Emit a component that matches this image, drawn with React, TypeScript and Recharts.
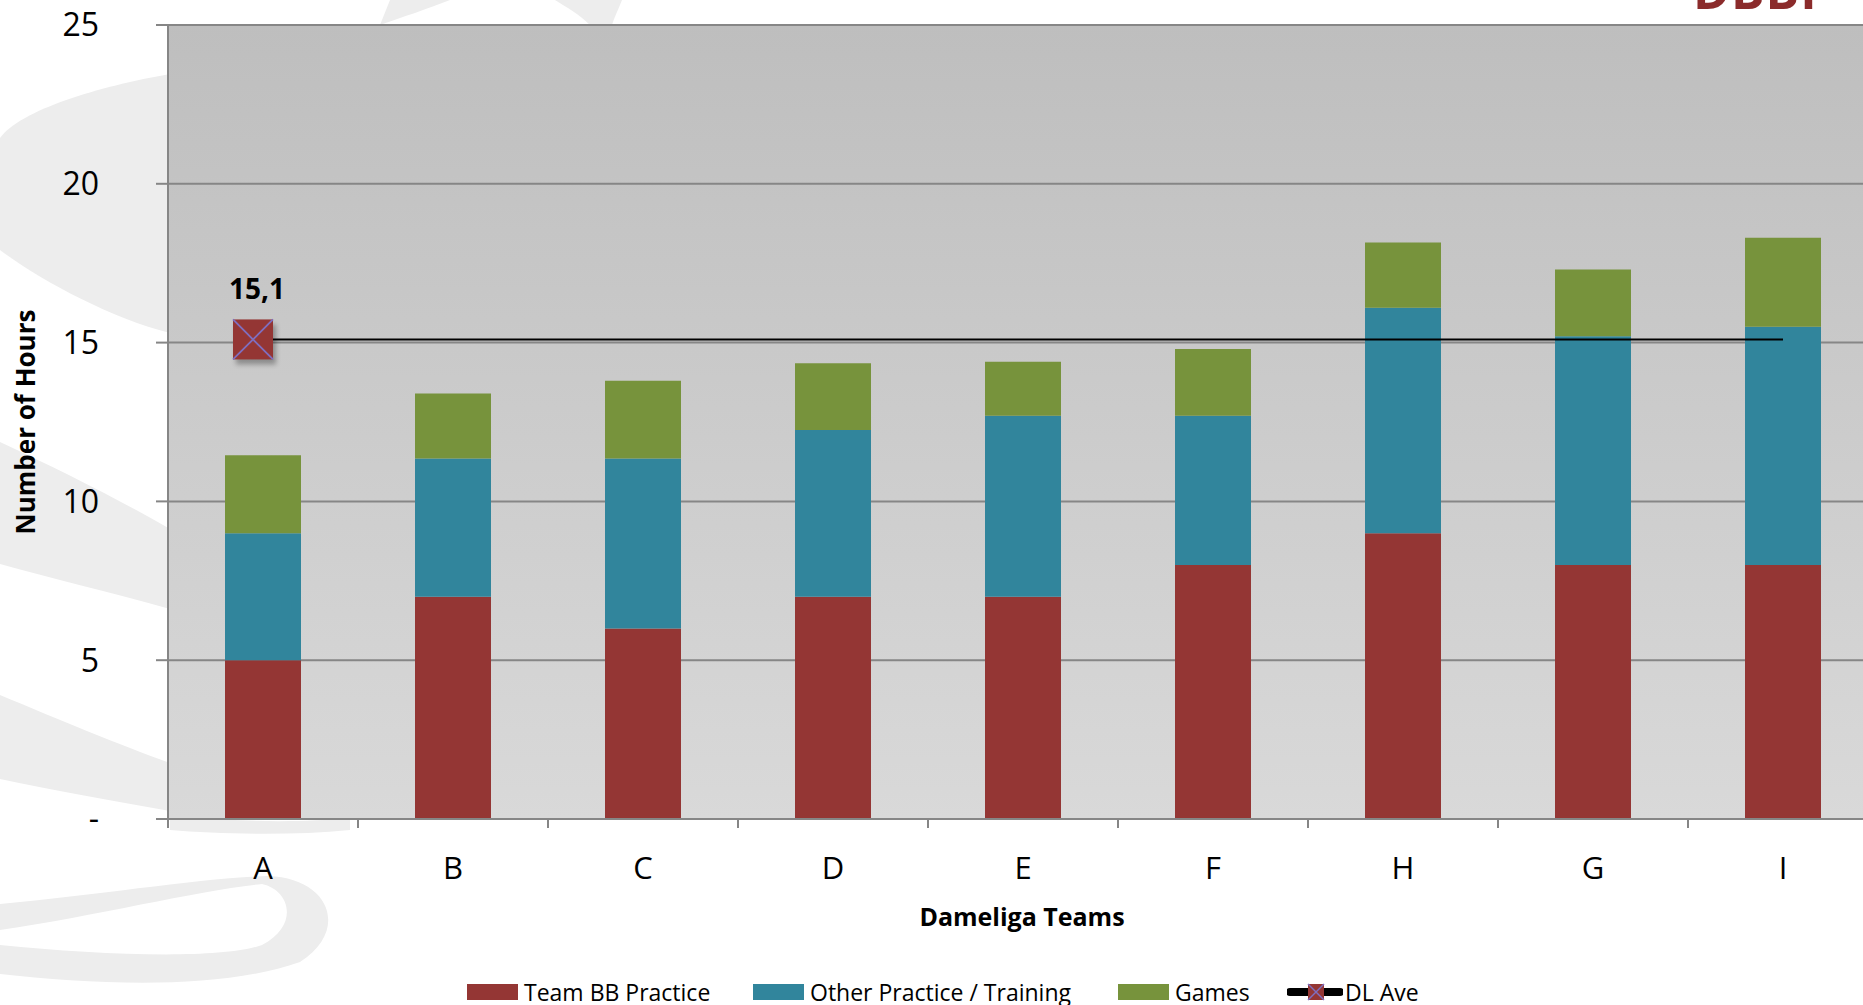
import React from "react";
import { ComposedChart, Bar, Line, XAxis, YAxis, CartesianGrid } from "recharts";

const teams = ["A", "B", "C", "D", "E", "F", "H", "G", "I"];
const teamPractice = [5, 7, 6, 7, 7, 8, 9, 8, 8];
const otherPractice = [4, 4.35, 5.35, 5.25, 5.7, 4.7, 7.1, 7.2, 7.5];
const games = [2.45, 2.05, 2.45, 2.1, 1.7, 2.1, 2.05, 2.1, 2.8];
const dlAve = [15.1, 15.1, 15.1, 15.1, 15.1, 15.1, 15.1, 15.1, 15.1];
const yTicks = [0, 5, 10, 15, 20, 25];

const data = teams.map((team, i) => ({
  team,
  teamPractice: teamPractice[i],
  otherPractice: otherPractice[i],
  games: games[i],
  dlAve: dlAve[i],
}));

const RED = "#943634";
const TEAL = "#31859c";
const GREEN = "#77933c";
const GRID = "#868686";
const FONT = "'Open Sans', sans-serif";

const CHART_W = 1900;
const CHART_H = 1005;
const M = { top: 25, right: 22, left: 0, bottom: 86 };
const Y_W = 168;
const X_H = 100;
const BAND = (CHART_W - M.left - M.right - Y_W) / teams.length;

function XTick(props: any) {
  const { x, y, payload, index } = props;
  return (
    <g>
      <line x1={x - BAND / 2} y1={y} x2={x - BAND / 2} y2={y + 9} stroke={GRID} strokeWidth={2} />
      {index === teams.length - 1 && (
        <line x1={x + BAND / 2} y1={y} x2={x + BAND / 2} y2={y + 9} stroke={GRID} strokeWidth={2} />
      )}
      <text x={x} y={y + 60} textAnchor="middle" fontSize={31} fill="#000" fontFamily={FONT}>
        {payload.value}
      </text>
    </g>
  );
}

function AveDot(props: any) {
  const { cx, cy, index, value } = props;
  if (index !== 0) return <g key={`d${index}`} />;
  const s = 20;
  const mx = cx - 10;
  const v = Array.isArray(value) ? value[1] : value;
  return (
    <g key="d0">
      <rect x={mx - s + 3} y={cy - s + 5} width={2 * s} height={2 * s} fill="#000" opacity={0.3} filter="url(#blur)" />
      <rect x={mx - s} y={cy - s} width={2 * s} height={2 * s} fill={RED} />
      <line x1={mx - s} y1={cy - s} x2={mx + s} y2={cy + s} stroke="#7f6fc0" strokeWidth={1.8} />
      <line x1={mx - s} y1={cy + s} x2={mx + s} y2={cy - s} stroke="#7f6fc0" strokeWidth={1.8} />
      <text x={cx - 6} y={cy - 40} textAnchor="middle" fontSize={28} fontWeight={700} fill="#000" fontFamily={FONT}>
        {String(v).replace(".", ",")}
      </text>
    </g>
  );
}

function Watermark() {
  const c = "#ededed";
  return (
    <svg width={1863} height={1005} style={{ position: "absolute", left: 0, top: 0 }}>
      <path d="M 170 74 C 100 86, 20 110, 0 138 L 0 250 C 40 280, 110 318, 170 333 Z" fill={c} />
      <path d="M 0 442 C 60 470, 120 500, 170 529 L 170 609 C 110 592, 50 578, 0 564 Z" fill={c} />
      <path d="M 0 695 C 60 720, 120 745, 170 763 L 170 811 C 110 800, 50 790, 0 779 Z" fill={c} />
      <path d="M 170 815 C 230 822, 300 823, 350 818 L 350 830 C 290 836, 220 834, 170 830 Z" fill={c} />
      <path d="M 0 904 C 100 895, 200 878, 268 876 C 330 878, 350 930, 300 962 C 220 990, 100 985, 0 974 L 0 945 C 100 955, 220 960, 262 945 C 300 925, 290 890, 262 884 C 200 890, 100 915, 0 930 Z" fill={c} />
      <path d="M 390 0 L 450 0 C 430 8, 400 18, 380 25 Z" fill={c} />
      <path d="M 555 0 L 622 0 C 618 10, 614 18, 612 25 L 590 25 C 580 15, 568 8, 555 0 Z" fill={c} />
    </svg>
  );
}

function LegendBox() {
  const item = (left: number, color: string | null, label: string) => (
    <div key={label} style={{ position: "absolute", left, top: 0, display: "flex", alignItems: "center", height: 28 }}>
      {color ? (
        <div style={{ width: 51, height: 16, background: color }} />
      ) : (
        <svg width={56} height={20}>
          <line x1={3} y1={10} x2={53} y2={10} stroke="#000" strokeWidth={8} strokeLinecap="round" />
          <rect x={21} y={2} width={16} height={16} fill={RED} />
          <line x1={21} y1={2} x2={37} y2={18} stroke="#7f6fc0" strokeWidth={1.5} />
          <line x1={21} y1={18} x2={37} y2={2} stroke="#7f6fc0" strokeWidth={1.5} />
        </svg>
      )}
      <span style={{ marginLeft: color ? 6 : 2, fontSize: 23, color: "#000", whiteSpace: "nowrap" }}>{label}</span>
    </div>
  );
  return (
    <div style={{ position: "absolute", left: 0, top: 978, width: 1863, height: 30 }}>
      {item(467, RED, "Team BB Practice")}
      {item(753, TEAL, "Other Practice / Training")}
      {item(1118, GREEN, "Games")}
      {item(1287, null, "DL Ave")}
    </div>
  );
}

export default function App() {
  return (
    <div
      style={{
        position: "fixed",
        left: 0,
        top: 0,
        width: 1863,
        height: 1005,
        overflow: "hidden",
        background: "#fff",
        fontFamily: FONT,
      }}
    >
      <Watermark />
      <div style={{ position: "absolute", left: 0, top: 0 }}>
        <ComposedChart width={CHART_W} height={CHART_H} data={data} margin={M} barSize={76}>
          <defs>
            <linearGradient id="plotBg" x1="0" y1="0" x2="0" y2="1">
              <stop offset="0%" stopColor="#bebebe" />
              <stop offset="100%" stopColor="#d9d9d9" />
            </linearGradient>
            <filter id="blur" x="-50%" y="-50%" width="200%" height="200%">
              <feGaussianBlur stdDeviation="2.5" />
            </filter>
          </defs>
          <CartesianGrid vertical={false} stroke={GRID} strokeWidth={2} fill="url(#plotBg)" fillOpacity={1} />
          <XAxis
            dataKey="team"
            height={X_H}
            axisLine={{ stroke: GRID, strokeWidth: 2 }}
            tickLine={false}
            tickSize={0}
            tickMargin={0}
            interval={0}
            tick={<XTick />}
            label={(p: any) => {
              const vb = p.viewBox || { x: 168, y: 819, width: 1710 };
              return (
                <text x={1022} y={vb.y + 107} textAnchor="middle" fontSize={25} fontWeight={700} fill="#000" fontFamily={FONT}>
                  Dameliga Teams
                </text>
              );
            }}
          />
          <YAxis
            width={Y_W}
            domain={[0, 25]}
            ticks={yTicks}
            interval={0}
            axisLine={{ stroke: GRID, strokeWidth: 2 }}
            tickLine={{ stroke: GRID, strokeWidth: 2 }}
            tickSize={12}
            tickMargin={57}
            tick={{ fontSize: 32, fill: "#000", fontFamily: FONT }}
            tickFormatter={(v: number) => (v === 0 ? "-" : String(v))}
            label={() => (
              <text
                x={0}
                y={0}
                transform="translate(35 422) rotate(-90)"
                textAnchor="middle"
                fontSize={26}
                fontWeight={700}
                fill="#000"
                fontFamily={FONT}
              >
                Number of Hours
              </text>
            )}
          />
          <Bar dataKey="teamPractice" stackId="a" fill={RED} isAnimationActive={false} />
          <Bar dataKey="otherPractice" stackId="a" fill={TEAL} isAnimationActive={false} />
          <Bar dataKey="games" stackId="a" fill={GREEN} isAnimationActive={false} />
          <Line
            dataKey="dlAve"
            stroke="#000"
            strokeWidth={2}
            dot={<AveDot />}
            activeDot={false}
            isAnimationActive={false}
          />
        </ComposedChart>
      </div>
      <div
        style={{
          position: "absolute",
          left: 1693,
          top: -35,
          fontSize: 50,
          fontWeight: 700,
          color: "#8b2b2b",
          letterSpacing: 1,
          lineHeight: "50px",
        }}
      >
        DBBF
      </div>
      <LegendBox />
    </div>
  );
}
